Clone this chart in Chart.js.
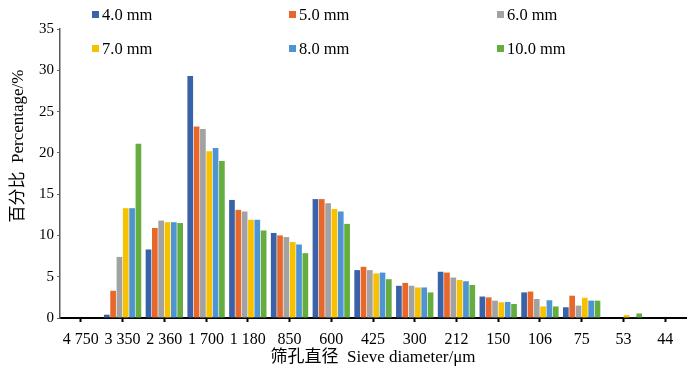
<!DOCTYPE html>
<html>
<head>
<meta charset="utf-8">
<script src="https://cdn.jsdelivr.net/npm/chart.js@4/dist/chart.umd.min.js"></script>
<style>
  html, body { margin: 0; padding: 0; background: #fff; }
  #wrap { position: relative; width: 700px; height: 371px; }
  #legend { position: absolute; left: 0; top: 0; width: 700px; height: 60px; pointer-events: none;
            font-family: "Liberation Serif", "Times New Roman", serif; font-size: 16.5px; color: #000; }
  .item { position: absolute; white-space: nowrap; line-height: 18px; }
  .sw { display: inline-block; width: 7px; height: 7px; margin-right: 3px; vertical-align: 2px; }
</style>
</head>
<body>
<div id="wrap">
  <canvas id="c" width="700" height="371"></canvas>
  <div id="legend"></div>
</div>
<script>
const categories = ['4 750','3 350','2 360','1 700','1 180','850','600','425','300','212','150','106','75','53','44'];
const seriesNames = ['4.0 mm','5.0 mm','6.0 mm','7.0 mm','8.0 mm','10.0 mm'];
const mm40  = [0, 0.4, 8.3, 29.3, 14.3, 10.3, 14.4, 5.8, 3.9, 5.6, 2.6, 3.1, 1.3, 0, 0];
const mm50  = [0, 3.3, 10.9, 23.2, 13.1, 10.0, 14.4, 6.2, 4.25, 5.5, 2.5, 3.2, 2.7, 0, 0];
const mm60  = [0, 7.4, 11.8, 22.9, 12.9, 9.8, 13.9, 5.8, 3.9, 4.9, 2.1, 2.3, 1.5, 0, 0];
const mm70  = [0, 13.3, 11.6, 20.2, 11.9, 9.2, 13.2, 5.4, 3.7, 4.6, 1.9, 1.4, 2.45, 0.35, 0];
const mm80  = [0, 13.3, 11.6, 20.6, 11.9, 8.9, 12.9, 5.5, 3.7, 4.45, 1.95, 2.15, 2.1, 0.08, 0];
const mm100 = [0, 21.1, 11.5, 19.0, 10.6, 7.85, 11.4, 4.7, 3.1, 4.0, 1.7, 1.4, 2.1, 0.55, 0];
const yTicks = [0, 5, 10, 15, 20, 25, 30, 35];
const yTitle = '百分比  Percentage/%';
const xTitle = '筛孔直径  Sieve diameter/μm';

const colors = ['#3A62A8', '#E8682B', '#A2A2A2', '#F7C100', '#4E94D3', '#66AD3F'];
const values = [mm40, mm50, mm60, mm70, mm80, mm100];

const serif = '"Liberation Serif", "Times New Roman", "Noto Sans CJK SC", serif';

// HTML legend: two rows of three
const legendPos = [[92, 6], [289, 6], [497, 6], [92, 40], [289, 40], [497, 40]];
const legendEl = document.getElementById('legend');
seriesNames.forEach((n, i) => {
  const d = document.createElement('div');
  d.className = 'item';
  d.style.left = legendPos[i][0] + 'px';
  d.style.top = legendPos[i][1] + 'px';
  d.innerHTML = '<span class="sw" style="background:' + colors[i] + '"></span>' + n;
  legendEl.appendChild(d);
});

const yTitlePlugin = {
  id: 'yTitle',
  afterDraw(chart) {
    const ctx = chart.ctx;
    ctx.save();
    ctx.translate(19, 146);
    ctx.rotate(-Math.PI / 2);
    ctx.font = '17px ' + serif;
    ctx.fillStyle = '#000';
    ctx.textAlign = 'center';
    ctx.textBaseline = 'middle';
    ctx.fillText(yTitle, 0, 0);
    ctx.restore();
  }
};

new Chart(document.getElementById('c'), {
  type: 'bar',
  data: {
    labels: categories,
    datasets: seriesNames.map((n, i) => ({
      label: n,
      data: values[i],
      backgroundColor: colors[i],
      borderWidth: 0,
      categoryPercentage: 0.91,
      barPercentage: 0.9
    }))
  },
  options: {
    responsive: false,
    animation: false,
    layout: { padding: { left: 0, right: 14, top: 29, bottom: 0 } },
    plugins: { legend: { display: false }, tooltip: { enabled: false } },
    scales: {
      x: {
        grid: { display: true, drawOnChartArea: false, offset: false, drawTicks: true,
                tickLength: 4, tickWidth: 2, tickColor: '#000' },
        border: { display: true, color: '#000', width: 2 },
        ticks: { color: '#000', font: { family: serif, size: 16 }, padding: 8,
                 maxRotation: 0, autoSkip: false },
        title: { display: true, text: xTitle, color: '#000',
                 font: { family: serif, size: 17 }, padding: { top: 0, bottom: 3 } },
        afterFit(s) { s.height = 53; }
      },
      y: {
        min: 0, max: 35,
        afterBuildTicks(s) { s.ticks = yTicks.map(v => ({ value: v })); },
        grid: { display: true, drawOnChartArea: false, drawTicks: true, tickLength: 3, tickColor: '#666' },
        border: { display: true, color: '#595959', width: 1.5 },
        ticks: { color: '#000', font: { family: serif, size: 15 }, padding: 3 },
        afterFit(s) { s.width = 60; }
      }
    }
  },
  plugins: [yTitlePlugin]
});
</script>
</body>
</html>
